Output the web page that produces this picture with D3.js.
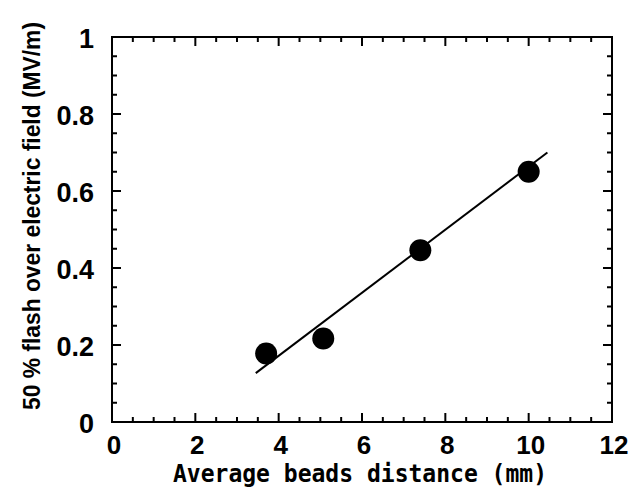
<!DOCTYPE html>
<html>
<head>
<meta charset="utf-8">
<script src="https://cdn.jsdelivr.net/npm/d3@7"></script>
<style>
  body { margin: 0; background: #fff; }
  svg { display: block; }
  .lbl { font-family: "Liberation Sans Narrow", "Liberation Sans", Arial, sans-serif; font-weight: bold; fill: #000; }
</style>
</head>
<body>
<div id="chart"></div>
<script>
// measured points
var beadsDistance = [3.7, 5.07, 7.4, 10.0];
var flashField    = [0.178, 0.217, 0.446, 0.65];
// fitted line end points
var fitX = [3.45, 10.45];
var fitY = [0.127, 0.70];
var xTicks = [0, 2, 4, 6, 8, 10, 12];
var yTicks = [0, 0.2, 0.4, 0.6, 0.8, 1];

var width = 643, height = 493;
var margin = {left: 112, right: 31, top: 37, bottom: 71};

var svg = d3.select('#chart').append('svg')
    .attr('width', width)
    .attr('height', height);

var x = d3.scaleLinear().domain([0, 12]).range([margin.left, width - margin.right]);
var y = d3.scaleLinear().domain([0, 1]).range([height - margin.bottom, margin.top]);

var minorX = d3.range(0, 12.001, 0.5);
var minorY = d3.range(0, 1.0001, 0.05);

//frame
svg.append('rect')
    .attr('x', x(0)).attr('y', y(1))
    .attr('width', x(12) - x(0)).attr('height', y(0) - y(1))
    .attr('fill', 'none').attr('stroke', '#000').attr('stroke-width', 2);

var ticks = svg.append('g').attr('stroke', '#000').attr('stroke-width', 2);
minorX.forEach(function(v){
    var len = (Math.abs(v % 2) < 1e-6) ? 9 : 5;
    ticks.append('line').attr('x1', x(v)).attr('x2', x(v)).attr('y1', y(0)).attr('y2', y(0) - len);
    ticks.append('line').attr('x1', x(v)).attr('x2', x(v)).attr('y1', y(1)).attr('y2', y(1) + len);
});
minorY.forEach(function(v){
    var major = Math.abs(Math.round(v * 5) - v * 5) < 1e-6;
    var len = major ? 9 : 5;
    ticks.append('line').attr('y1', y(v)).attr('y2', y(v)).attr('x1', x(0)).attr('x2', x(0) + len);
    ticks.append('line').attr('y1', y(v)).attr('y2', y(v)).attr('x1', x(12)).attr('x2', x(12) - len);
});

//tick labels
svg.selectAll('.xt').data(xTicks).enter().append('text')
    .attr('class', 'lbl xt')
    .attr('x', function(d){ return x(d) + 2; })
    .attr('y', y(0) + 32)
    .attr('text-anchor', 'middle')
    .style('font-size', '26px')
    .text(function(d){ return d; });

svg.selectAll('.yt').data(yTicks).enter().append('text')
    .attr('class', 'lbl yt')
    .attr('x', x(0) - 18)
    .attr('y', function(d){ return y(d) + 11; })
    .attr('text-anchor', 'end')
    .style('font-size', '27px')
    .text(function(d){ return d; });

//axis titles
svg.append('text')
    .attr('class', 'lbl')
    .attr('x', 360).attr('y', 482)
    .attr('text-anchor', 'middle')
    .style('font-family', '"DejaVu Sans Mono", monospace')
    .style('font-size', '25px')
    .attr('textLength', 374)
    .attr('lengthAdjust', 'spacingAndGlyphs')
    .text('Average beads distance (mm)');

svg.append('text')
    .attr('class', 'lbl')
    .attr('transform', 'translate(40,' + 216 + ') rotate(-90)')
    .attr('text-anchor', 'middle')
    .style('font-size', '24px')
    .attr('textLength', 388)
    .attr('lengthAdjust', 'spacingAndGlyphs')
    .text('50 % flash over electric field (MV/m)');

//fit line
svg.append('line')
    .attr('x1', x(fitX[0])).attr('y1', y(fitY[0]))
    .attr('x2', x(fitX[1])).attr('y2', y(fitY[1]))
    .attr('stroke', '#000').attr('stroke-width', 2);

//points
svg.selectAll('circle').data(beadsDistance).enter().append('circle')
    .attr('cx', function(d){ return x(d); })
    .attr('cy', function(d, i){ return y(flashField[i]); })
    .attr('r', 11)
    .attr('fill', '#000');
</script>
</body>
</html>
